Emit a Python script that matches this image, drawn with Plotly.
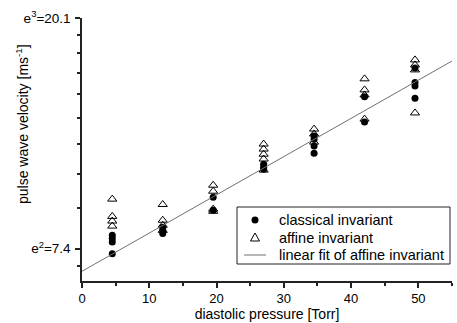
import math
import plotly.graph_objects as go

# diastolic pressure groups [Torr]
classical_x = [4.5]*4 + [12]*3 + [19.5]*2 + [27]*3 + [34.5]*4 + [42]*2 + [49.5]*4
classical_y = [7.83, 7.72, 7.61, 7.23,
               8.11, 8.00, 7.89,
               9.24, 8.73,
               10.66, 10.52, 10.43,
               12.04, 11.88, 11.53, 11.18,
               14.27, 12.80,
               16.18, 15.19, 14.96, 14.19]

affine_x = [4.5]*4 + [12]*4 + [19.5]*4 + [27]*5 + [34.5]*3 + [42]*4 + [49.5]*4
affine_y = [9.16, 8.50, 8.33, 8.15,
            8.95, 8.36, 8.18, 8.00,
            9.73, 9.48, 8.77, 8.69,
            11.63, 11.38, 11.13, 10.90, 10.39,
            12.41, 12.15, 11.73,
            15.43, 14.71, 14.39, 12.96,
            16.75, 16.39, 16.04, 13.31]

fit_x = [0, 55]
fit_y = [6.70, 16.67]

x_ticks = [0, 10, 20, 30, 40, 50]
y_major = [math.e**2, math.e**3]
y_major_text = ["e<sup>2</sup>=7.4", "e<sup>3</sup>=20.1"]
y_minor = [6.85, 8.80, 10.21, 11.62, 13.03, 14.44, 15.85, 17.26, 18.68]

legend_names = ["classical invariant", "affine invariant", "linear fit of affine invariant"]

FONT = "Liberation Sans, Arial, sans-serif"
W, H = 457, 323
ML, MR, MT, MB = 82, 5, 18, 42
PW, PH = W - ML - MR, H - MT - MB


def px(x):
    return (x - ML) / PW


def py(y):
    return (H - MB - y) / PH


fig = go.Figure()
fig.add_trace(go.Scatter(x=classical_x, y=classical_y, mode="markers",
                         name=legend_names[0], showlegend=False,
                         marker=dict(symbol="circle", size=7, color="black")))
fig.add_trace(go.Scatter(x=affine_x, y=affine_y, mode="markers",
                         name=legend_names[1], showlegend=False,
                         marker=dict(symbol="triangle-up-open", size=8, color="black",
                                     line=dict(width=1, color="black"))))
fig.add_trace(go.Scatter(x=fit_x, y=fit_y, mode="lines",
                         name=legend_names[2], showlegend=False,
                         line=dict(color="#707070", width=1)))

# legend box drawn manually (compact spacing as in the reference)
shapes = [
    dict(type="rect", xref="paper", yref="paper", x0=px(237), x1=px(450),
         y0=py(264), y1=py(207), line=dict(color="#222", width=1), fillcolor="white",
         layer="above"),
    dict(type="circle", xref="paper", yref="paper", xsizemode="pixel", ysizemode="pixel",
         xanchor=px(255), yanchor=py(220), x0=-3.5, x1=3.5, y0=-3.5, y1=3.5,
         fillcolor="black", line=dict(color="black", width=0), layer="above"),
    dict(type="path", xref="paper", yref="paper", xsizemode="pixel", ysizemode="pixel",
         xanchor=px(255), yanchor=py(237.5), path="M -4.5,-3.5 L 4.5,-3.5 L 0,4.5 Z",
         fillcolor="rgba(0,0,0,0)", line=dict(color="black", width=1), layer="above"),
    dict(type="line", xref="paper", yref="paper", x0=px(244), x1=px(266),
         y0=py(255), y1=py(255), line=dict(color="#707070", width=1), layer="above"),
]
annotations = [
    dict(text=legend_names[i], xref="paper", yref="paper", x=px(277), y=py(yy),
         xanchor="left", yanchor="middle", showarrow=False, font=dict(size=14.5))
    for i, yy in enumerate([220, 237.5, 255])
]
annotations.append(dict(text="pulse wave velocity [ms<sup>-1</sup>]", textangle=-90,
                        xref="paper", yref="paper", x=px(22), y=py(124),
                        xanchor="center", yanchor="middle", showarrow=False,
                        font=dict(size=14)))

fig.update_layout(
    width=W, height=H,
    margin=dict(l=ML, r=MR, t=MT, b=MB),
    paper_bgcolor="white", plot_bgcolor="white",
    font=dict(family=FONT, size=13, color="black"),
    showlegend=False,
    xaxis=dict(range=[0, 55], tickmode="array", tickvals=x_ticks,
               showline=True, linecolor="#222", linewidth=1.5,
               ticks="outside", ticklen=5, tickcolor="#222", tickwidth=1.5,
               showgrid=False, zeroline=False,
               minor=dict(tickmode="linear", tick0=0, dtick=5, ticks="outside",
                          ticklen=3, tickcolor="#222", tickwidth=1.5, showgrid=False),
               title=dict(text="diastolic pressure [Torr]", font=dict(size=14), standoff=2)),
    yaxis=dict(type="log", range=[1.86/math.log(10), 3.0/math.log(10)],
               tickmode="array", tickvals=y_major, ticktext=y_major_text,
               showline=True, linecolor="#222", linewidth=1.5,
               ticks="outside", ticklen=5, tickcolor="#222", tickwidth=1.5,
               showgrid=False, zeroline=False, tickfont=dict(size=13.5),
               ticklabelstandoff=2,
               minor=dict(tickmode="array", tickvals=y_minor, ticks="outside",
                          ticklen=3, tickcolor="#222", tickwidth=1.5, showgrid=False)),
    shapes=shapes,
    annotations=annotations,
)

fig.write_html("out.html", config={"displayModeBar": False},
               post_script="document.body.style.margin='0';document.body.style.padding='0';")
